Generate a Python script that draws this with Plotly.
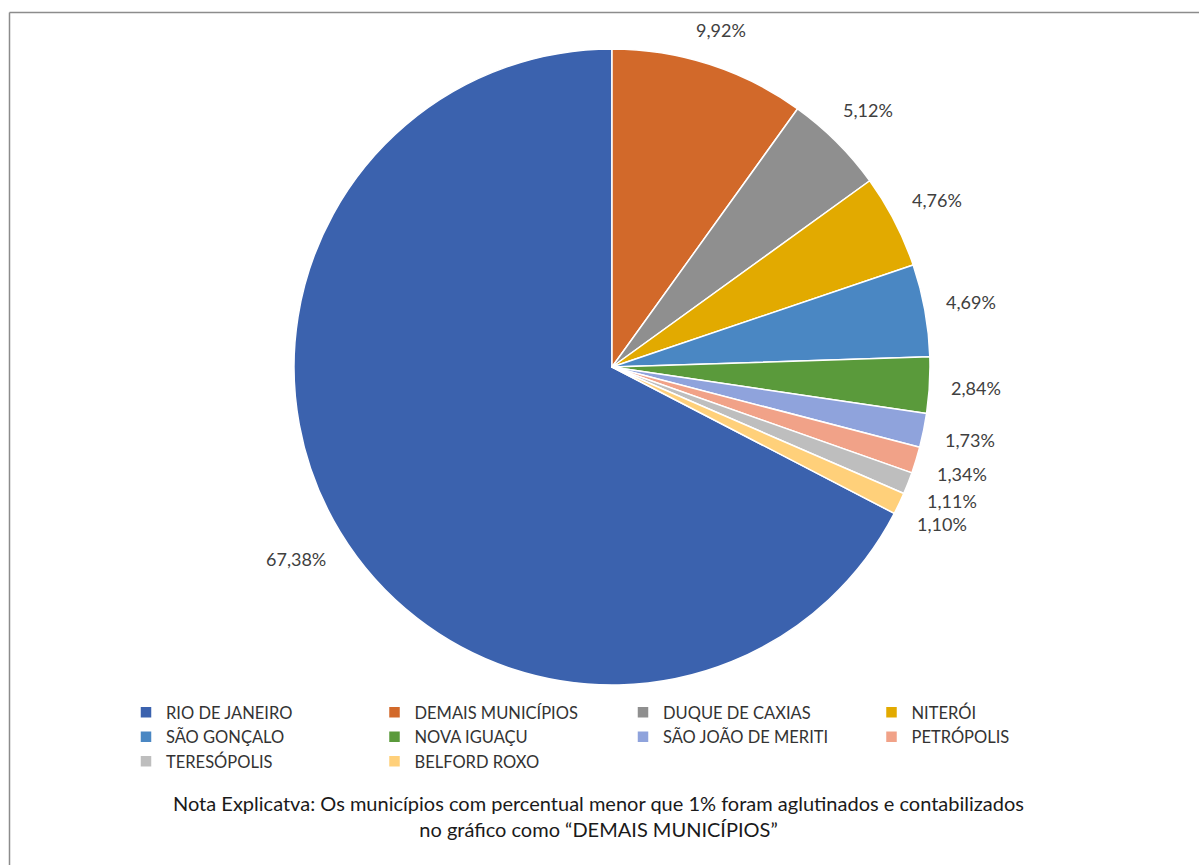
import math
import plotly.graph_objects as go

# Participação por município (%)
municipios = [
    "RIO DE JANEIRO", "DEMAIS MUNICÍPIOS", "DUQUE DE CAXIAS", "NITERÓI",
    "SÃO GONÇALO", "NOVA IGUAÇU", "SÃO JOÃO DE MERITI", "PETRÓPOLIS",
    "TERESÓPOLIS", "BELFORD ROXO",
]
percentuais = [67.38, 9.92, 5.12, 4.76, 4.69, 2.84, 1.73, 1.34, 1.11, 1.10]
cores = [
    "#3B62AE", "#D2692A", "#8F8F8F", "#E2AA00", "#4A87C3",
    "#5A9A3B", "#8FA3DC", "#F1A288", "#BEBEBE", "#FFD07A",
]

FONTE = "Lato, 'Open Sans', sans-serif"
W, H = 1199, 865
cx, cy, r = 612, 367, 318      # centro e raio da pizza, em pixels
folga = 20                     # espaço entre a borda da pizza e o rótulo
tam_rotulo = 18

total = sum(percentuais)
# Rio de Janeiro é desenhado por último no sentido horário, terminando às 12h
rotacao = 360 * (1 - percentuais[0] / total)

fig = go.Figure(
    go.Pie(
        labels=municipios,
        values=percentuais,
        sort=False,
        direction="clockwise",
        rotation=rotacao,
        marker=dict(colors=cores, line=dict(color="#FFFFFF", width=1.5)),
        textinfo="none",
        domain=dict(
            x=[(cx - r) / W, (cx + r) / W],
            y=[1 - (cy + r) / H, 1 - (cy - r) / H],
        ),
        hoverinfo="label+percent",
    )
)

# Rótulos de percentual fora de cada fatia, no ângulo médio; a distância
# considera o tamanho aproximado da caixa de texto
rotulos = []
inicio = rotacao
for valor in percentuais:
    texto = f"{valor:.2f}%".replace(".", ",")
    meio = math.radians(inicio + 360 * valor / total / 2)
    meia_larg = 0.29 * tam_rotulo * len(texto)
    meia_alt = 0.5 * tam_rotulo
    dist = r + folga + abs(math.sin(meio)) * meia_larg + abs(math.cos(meio)) * meia_alt
    px = cx + dist * math.sin(meio)
    py = cy - dist * math.cos(meio)
    rotulos.append(dict(
        text=texto,
        xref="paper", yref="paper", x=px / W, y=1 - py / H,
        xanchor="center", yanchor="middle", showarrow=False,
        font=dict(family=FONTE, size=tam_rotulo, color="#404040"),
    ))
    inicio += 360 * valor / total

nota = dict(
    text="Nota Explicatva: Os municípios com percentual menor que 1% foram aglutinados e contabilizados<br>no gráfico como “DEMAIS MUNICÍPIOS”",
    xref="paper", yref="paper", x=598 / W, y=1 - 816 / H,
    xanchor="center", yanchor="middle", showarrow=False,
    align="center",
    font=dict(family=FONTE, size=20, color="#1A1A1A"),
)

fig.update_layout(
    width=W,
    height=H,
    margin=dict(l=0, r=0, t=0, b=0),
    separators=",.",
    paper_bgcolor="#FFFFFF",
    font=dict(family=FONTE, color="#404040"),
    legend=dict(
        orientation="h",
        x=126 / W,
        xanchor="left",
        y=1 - 695 / H,
        yanchor="top",
        entrywidth=203.5,
        entrywidthmode="pixels",
        font=dict(family=FONTE, size=16.5, color="#333333"),
        traceorder="normal",
        bgcolor="rgba(0,0,0,0)",
    ),
    shapes=[
        dict(type="line", xref="paper", yref="paper",
             x0=9.5 / W, x1=1, y0=1 - 12.5 / H, y1=1 - 12.5 / H,
             line=dict(color="#8C8C8C", width=1.5)),
        dict(type="line", xref="paper", yref="paper",
             x0=9.5 / W, x1=9.5 / W, y0=0, y1=1 - 12.5 / H,
             line=dict(color="#8C8C8C", width=1.5)),
    ],
    annotations=rotulos + [nota],
)

fig.write_html("out.html")
